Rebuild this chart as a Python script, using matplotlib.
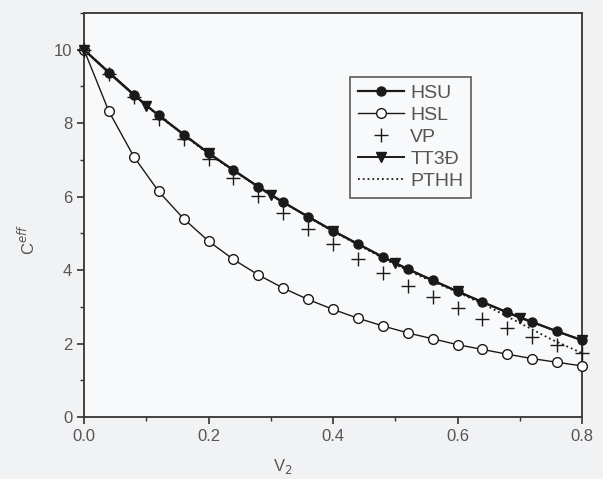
import matplotlib
matplotlib.use("Agg")
import matplotlib.pyplot as plt
from matplotlib.ticker import MultipleLocator

plt.rcParams['font.family'] = ['Liberation Sans', 'DejaVu Sans']

# ---- data ----
v_fine = [0.00, 0.04, 0.08, 0.12, 0.16, 0.20, 0.24, 0.28, 0.32, 0.36, 0.40,
          0.44, 0.48, 0.52, 0.56, 0.60, 0.64, 0.68, 0.72, 0.76, 0.80]
hsu = [10.00, 9.37, 8.77, 8.21, 7.69, 7.19, 6.72, 6.27, 5.85, 5.45, 5.07,
       4.71, 4.36, 4.03, 3.72, 3.42, 3.13, 2.85, 2.59, 2.33, 2.09]
hsl = [10.00, 8.32, 7.09, 6.14, 5.40, 4.79, 4.29, 3.87, 3.51, 3.20, 2.93,
       2.69, 2.48, 2.29, 2.13, 1.97, 1.84, 1.71, 1.59, 1.49, 1.39]
vp = [10.00, 9.33, 8.71, 8.12, 7.57, 7.03, 6.50, 6.02, 5.56, 5.13, 4.70,
      4.31, 3.91, 3.58, 3.26, 2.96, 2.66, 2.42, 2.17, 1.97, 1.75]
v_tt = [0.0, 0.1, 0.2, 0.3, 0.4, 0.5, 0.6, 0.7, 0.8]
tt3d = [10.00, 8.48, 7.18, 6.04, 5.07, 4.18, 3.42, 2.70, 2.09]
v_pt = [0.0, 0.1, 0.2, 0.3, 0.4, 0.5, 0.55, 0.6, 0.65, 0.7, 0.75, 0.8]
pthh = [10.00, 8.47, 7.16, 6.04, 5.05, 4.15, 3.76, 3.40, 3.00, 2.56, 2.12, 1.74]

labels = ["HSU", "HSL", "VP", "TT3Đ", "PTHH"]
x_ticks = [0.0, 0.2, 0.4, 0.6, 0.8]
y_ticks = [0, 2, 4, 6, 8, 10]

fig = plt.figure(figsize=(6.03, 4.79), dpi=100)
fig.patch.set_facecolor('#f1f2f4')
ax = fig.add_axes([84/603, 62/479, 498/603, 404/479])
ax.set_facecolor('#f8f9fa')

ink = '#1a1a1a'
ax.plot(v_fine, hsu, '-', color=ink, lw=1.6, marker='o', ms=6.5,
        mfc=ink, mec=ink, label=labels[0], clip_on=False, zorder=3)
ax.plot(v_fine, hsl, '-', color=ink, lw=1.0, marker='o', ms=7,
        mfc='white', mec=ink, mew=1.0, label=labels[1], clip_on=False, zorder=3)
ax.plot(v_fine, vp, linestyle='none', color=ink, marker='+', ms=10,
        mew=1.0, label=labels[2], clip_on=False, zorder=4)
ax.plot(v_tt, tt3d, '-', color=ink, lw=1.4, marker='v', ms=7.5,
        mfc=ink, mec=ink, label=labels[3], clip_on=False, zorder=3)
ax.plot(v_pt, pthh, ':', color=ink, lw=1.3, label=labels[4], zorder=2)

ax.set_xlim(0, 0.8)
ax.set_ylim(0, 11)
ax.set_xticks(x_ticks)
ax.set_xticklabels([f"{t:.1f}" for t in x_ticks])
ax.set_yticks(y_ticks)
ax.xaxis.set_minor_locator(MultipleLocator(0.1))
ax.yaxis.set_minor_locator(MultipleLocator(1))
ax.tick_params(axis='both', which='major', direction='out', length=5,
               width=1.2, labelsize=12, labelcolor='#555555', color='#333333')
ax.tick_params(axis='both', which='minor', direction='out', length=3,
               width=1.0, color='#333333')
for s in ax.spines.values():
    s.set_linewidth(1.3)
    s.set_color('#333333')

ax.set_xlabel("V$_2$", fontsize=12, color='#555555')
ax.xaxis.set_label_coords(0.4, -0.10)
ax.set_ylabel("C$^{eff}$", fontsize=12, color='#555555')
ax.yaxis.set_label_coords(-0.092, 0.44)

leg = ax.legend(loc='upper left', bbox_to_anchor=(0.534, 0.842), fontsize=14,
                frameon=True, fancybox=False, edgecolor='#333333',
                handlelength=2.4, handletextpad=0.3, labelspacing=0.22,
                borderpad=0.4, borderaxespad=0)
leg.get_frame().set_linewidth(1.2)
leg.get_frame().set_facecolor('#f8f9fa')
for t in leg.get_texts():
    t.set_color('#555555')

fig.savefig("out.png", dpi=100, facecolor=fig.get_facecolor())
